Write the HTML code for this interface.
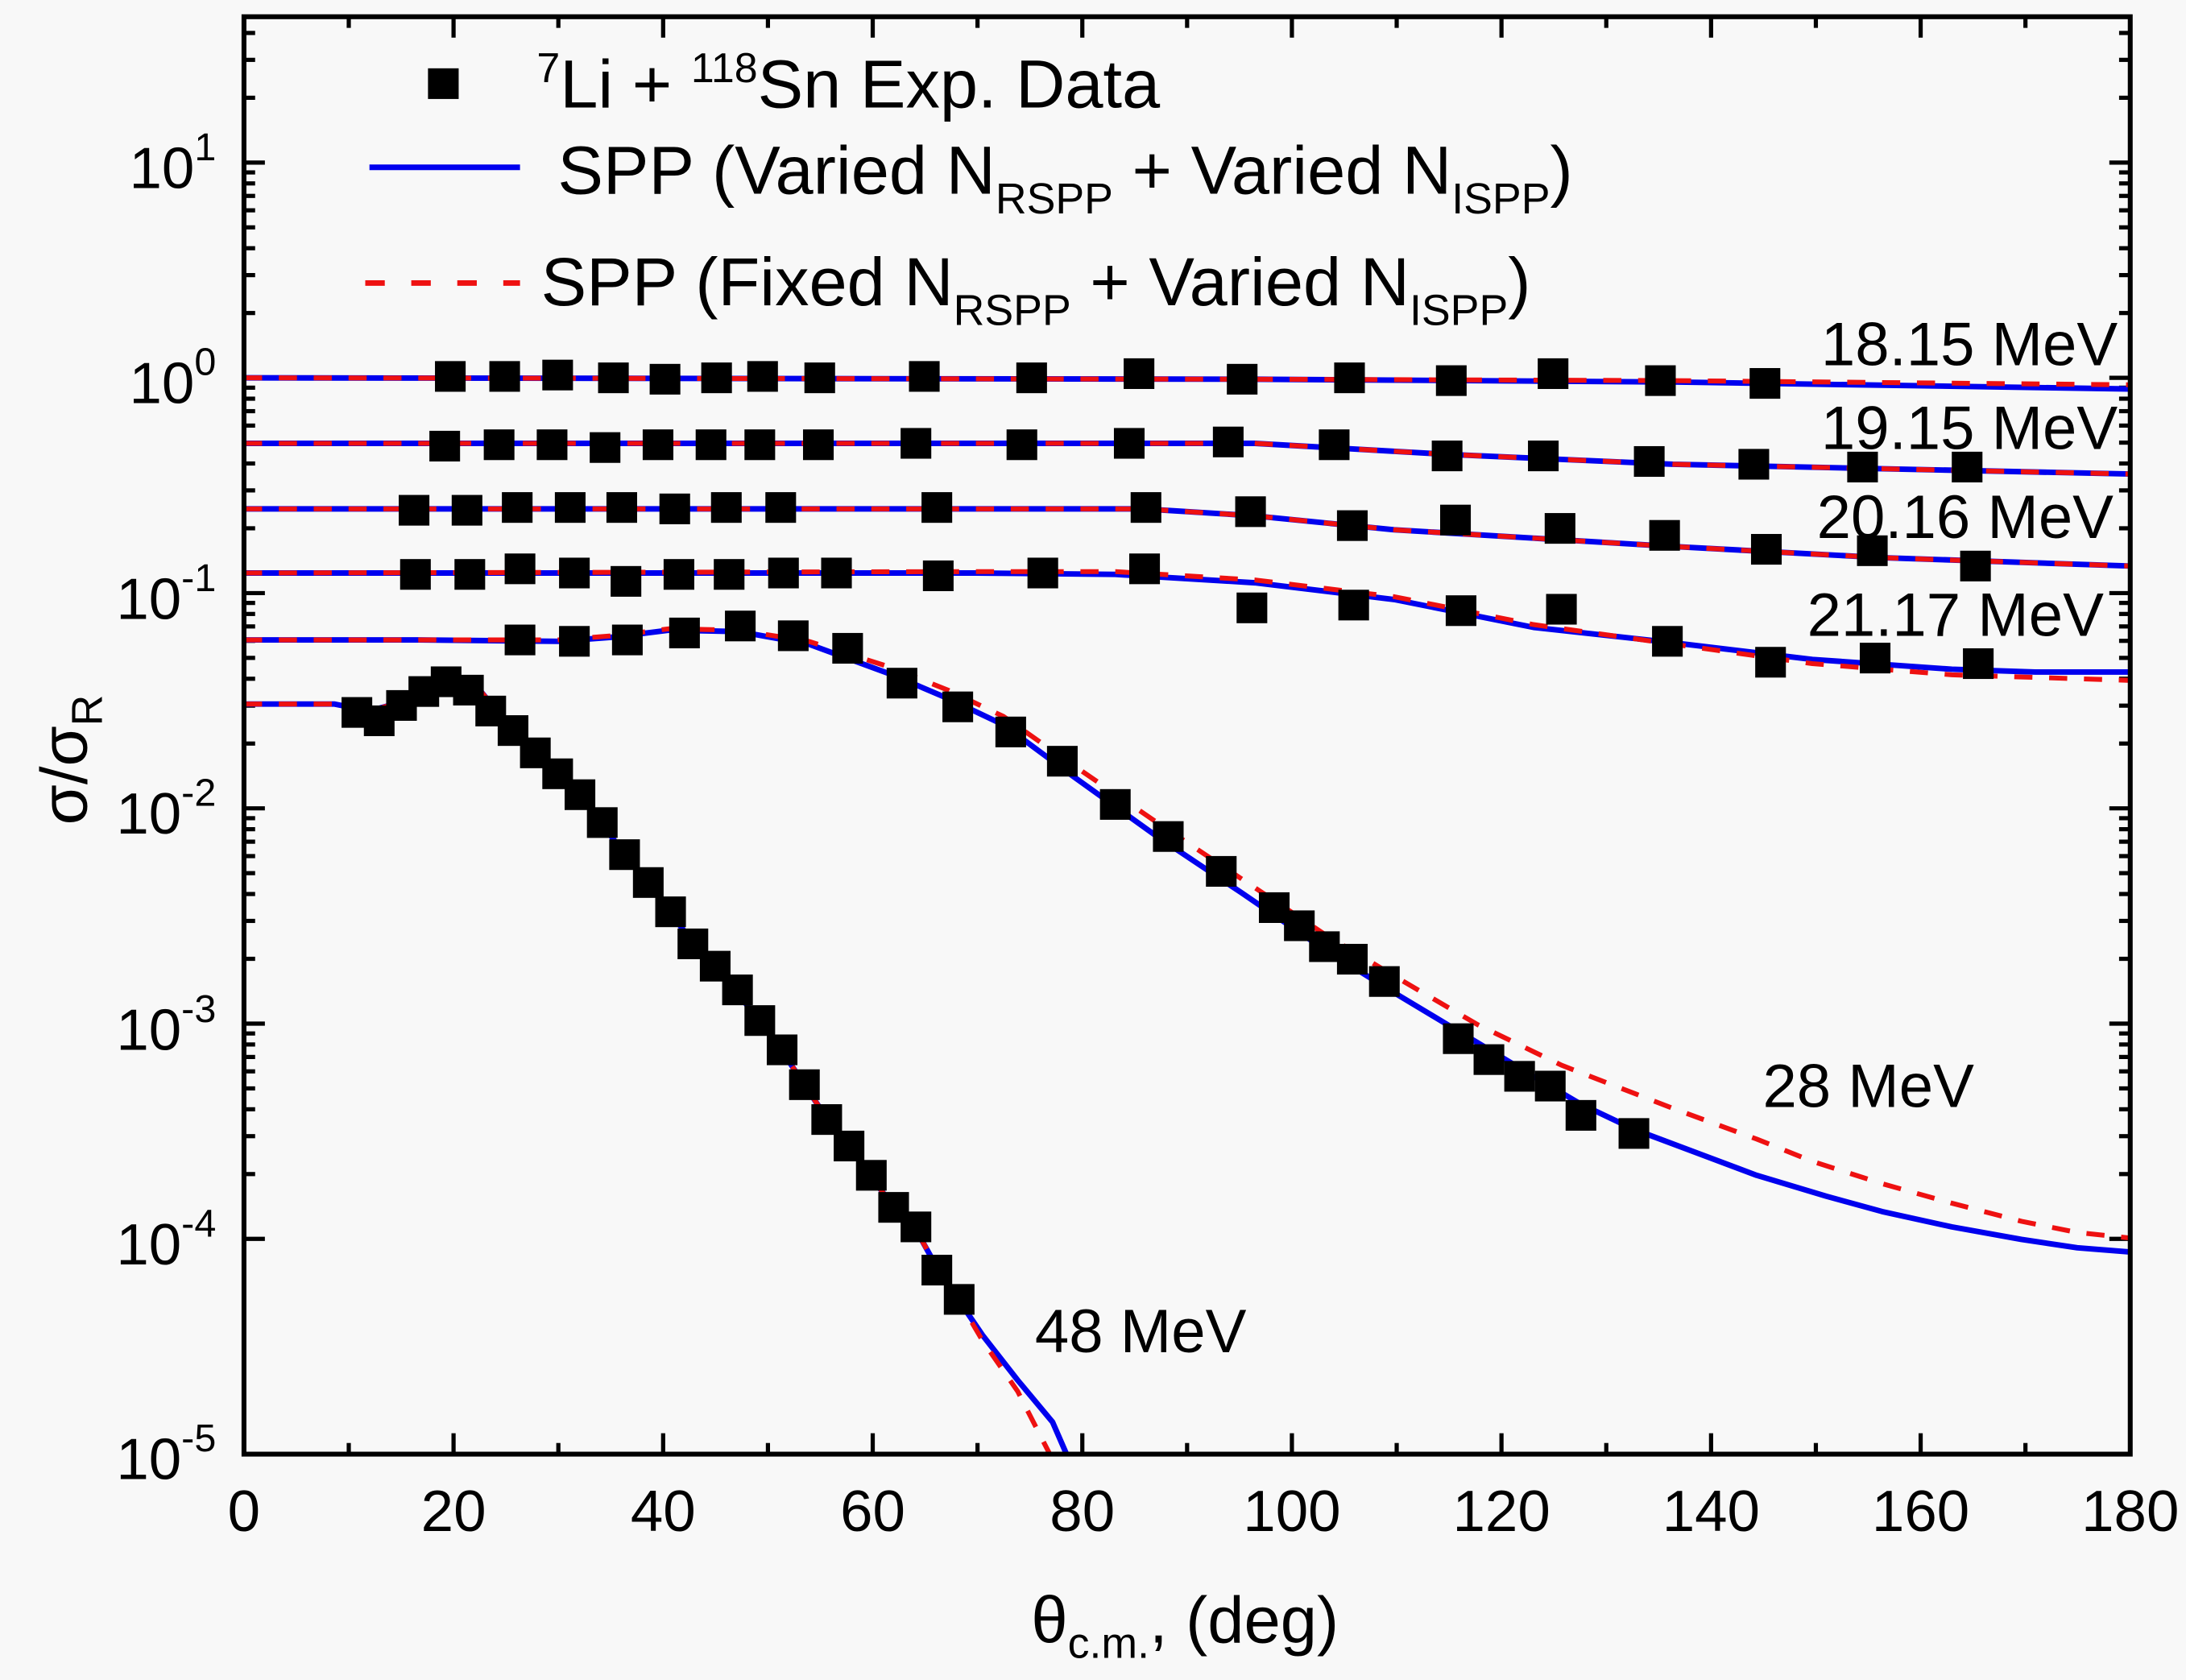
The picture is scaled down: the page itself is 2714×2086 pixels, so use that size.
<!DOCTYPE html>
<html><head><meta charset="utf-8"><style>
html,body{margin:0;padding:0;background:#f8f8f8}
svg{display:block}
text{font-family:"Liberation Sans",Arial,sans-serif;fill:#000}
</style></head><body>
<svg id="s" width="2714" height="2086" viewBox="0 0 1568 1205" preserveAspectRatio="none" xmlns="http://www.w3.org/2000/svg">
<rect width="1568" height="1205" fill="#f8f8f8"/>
<g id="ticks" stroke="#000" stroke-width="3"></g>
<g id="curves" fill="none" stroke-linejoin="round" stroke-linecap="butt"></g>
<g id="marks" fill="#000"></g>
<rect x="175" y="12" width="1353" height="1031" fill="none" stroke="#000" stroke-width="3.5"/>
<g font-size="42" text-anchor="end">
<text x="155" y="135">10<tspan dy="-20" font-size="28">1</tspan></text>
<text x="155" y="289">10<tspan dy="-20" font-size="28">0</tspan></text>
<text x="155" y="444">10<tspan dy="-20" font-size="28">-1</tspan></text>
<text x="155" y="598">10<tspan dy="-20" font-size="28">-2</tspan></text>
<text x="155" y="753">10<tspan dy="-20" font-size="28">-3</tspan></text>
<text x="155" y="907">10<tspan dy="-20" font-size="28">-4</tspan></text>
<text x="155" y="1061">10<tspan dy="-20" font-size="28">-5</tspan></text>
</g>
<g font-size="42" text-anchor="middle" id="xl"></g>
<text x="850" y="1178" font-size="47" text-anchor="middle">θ<tspan dy="11" font-size="31">c.m.</tspan><tspan dy="-11">, (deg)</tspan></text>
<text transform="translate(62,545) rotate(-90)" font-size="47" text-anchor="middle">σ/σ<tspan dy="11" font-size="31">R</tspan></text>
<rect x="307" y="49" width="22" height="22"/>
<line x1="265" y1="120" x2="373" y2="120" stroke="#0000ee" stroke-width="4"/>
<line x1="262" y1="203" x2="373" y2="203" stroke="#ee1111" stroke-width="4" stroke-dasharray="14,19"/>
<g font-size="49">
<text x="385" y="77"><tspan dy="-18" font-size="30">7</tspan><tspan dy="18">Li + </tspan><tspan dy="-18" font-size="30">118</tspan><tspan dy="18">Sn Exp. Data</tspan></text>
<text x="400" y="139">SPP (Varied N<tspan dy="14" font-size="31">RSPP</tspan><tspan dy="-14"> + Varied N</tspan><tspan dy="14" font-size="31">ISPP</tspan><tspan dy="-14">)</tspan></text>
<text x="388" y="219">SPP (Fixed N<tspan dy="14" font-size="31">RSPP</tspan><tspan dy="-14"> + Varied N</tspan><tspan dy="14" font-size="31">ISPP</tspan><tspan dy="-14">)</tspan></text>
</g>
<g font-size="44" text-anchor="end">
<text x="1519" y="262">18.15 MeV</text>
<text x="1519" y="322">19.15 MeV</text>
<text x="1516" y="386">20.16 MeV</text>
<text x="1509" y="456">21.17 MeV</text>
<text x="1416" y="794">28 MeV</text>
<text x="894" y="970">48 MeV</text>
</g>
</svg>
<script>
var NS="http://www.w3.org/2000/svg";
function el(p,t,a){var e=document.createElementNS(NS,t);for(var k in a)e.setAttribute(k,a[k]);document.getElementById(p).appendChild(e);return e;}
for(var d=0;d<=180;d+=10){var x=175+d*1353/180,L=(d%20==0)?15:8;
el("ticks","line",{x1:x,y1:1043,x2:x,y2:1043-L});el("ticks","line",{x1:x,y1:12,x2:x,y2:12+L});
if(d%20==0){var t=el("xl","text",{x:x,y:1098});t.textContent=d;}}
var dec=154.4;
for(var e=-5;e<=1;e++){for(var m=1;m<=9;m++){var v=e+Math.log10(m);var y=271-dec*v;if(y<12)continue;if(e==-5&&m>1)continue;var L=(m==1)?15:8;
el("ticks","line",{x1:175,y1:y,x2:175+L,y2:y});el("ticks","line",{x1:1528,y1:y,x2:1528-L,y2:y});}}
function pts(a){return a.map(function(p){return p[0]+","+p[1]}).join(" ");}
function curve(b,r){el("curves","polyline",{points:pts(b),stroke:"#0000ee","stroke-width":4});
el("curves","polyline",{points:pts(r||b),stroke:"#ee1111","stroke-width":3.5,"stroke-dasharray":"13,12"});}
curve([[175,271],[900,272],[1200,274],[1528,279]],[[175,271],[900,272],[1200,273],[1528,276]]);
curve([[175,318],[900,318],[1040,326],[1200,333],[1528,340]]);
curve([[175,365],[820,365],[900,370],[1000,380],[1200,392],[1350,400],[1528,406]]);
curve([[175,411],[700,411],[800,412],[900,418],[1000,430],[1100,450],[1200,461],[1300,473],[1400,480],[1460,482],[1528,482]],
[[175,411],[700,410],[800,410],[900,416],[1000,428],[1100,448],[1200,462],[1300,476],[1400,484],[1528,488]]);
curve([[175,459],[300,459],[400,460],[440,457],[480,452],[530,453],[580,462],[640,484],[680,501],[720,520],[770,557],[830,600],[890,640],[950,681],[1000,712],[1060,748],[1100,772],[1134,792],[1172,810],[1220,828],[1260,843],[1310,858],[1350,869],[1400,880],[1450,889],[1490,895],[1528,898]],
[[175,459],[300,459],[400,459],[440,456],[480,451],[530,452],[580,460],[640,479],[680,495],[720,514],[770,549],[830,590],[890,630],[950,670],[1000,700],[1060,735],[1120,764],[1200,795],[1260,817],[1300,833],[1350,849],[1400,863],[1450,876],[1490,884],[1528,888]]);
var c48=[[175,505],[240,505],[265,510],[290,503],[320,490],[345,496],[368,524],[384,540],[400,555],[416,571],[432,591],[448,613],[465,634],[481,655],[497,676],[513,694],[529,712],[545,733],[561,754],[577,778],[593,802],[609,823],[625,844],[641,866],[657,882],[672,909],[688,933]];
curve(c48.concat([[705,958],[730,990],[755,1020],[765,1043]]),c48.concat([[705,962],[730,998],[753,1043]]));
function M(xs,ys){for(var i=0;i<xs.length;i++)el("marks","rect",{x:xs[i]-11,y:ys[i]-11,width:22,height:22});}
M([323,362,400,440,477,514,547,588,663,740,817,891,968,1041,1114,1191,1266],[270,270,269,271,272,271,270,271,270,271,268,272,271,273,268,273,275]);
M([319,358,396,434,472,510,545,587,657,733,810,881,957,1038,1107,1183,1258,1336,1411],[320,319,319,321,319,319,319,319,318,319,318,317,319,327,327,331,333,335,335]);
M([297,335,371,409,446,484,521,560,672,822,897,970,1044,1119,1194,1267,1343,1417],[366,366,364,364,364,365,364,364,364,364,367,377,373,379,384,394,395,406]);
M([298,337,373,412,449,487,523,562,600,673,748,821,898,971,1048,1120,1196,1270,1345,1419],[412,412,408,411,417,412,412,411,411,413,411,408,436,434,438,437,460,475,472,476]);
M([373,412,450,491,531,569,608,647,687,725,762,800,838,876,914,932,950,970,993,1046,1068,1090,1112,1134,1172],[459,460,459,454,449,456,465,490,507,525,546,577,600,625,651,664,679,688,704,745,760,772,779,800,813]);
M([256,272,288,304,320,336,352,368,384,400,416,432,448,465,481,497,513,529,545,561,577,593,609,625,641,657,672,688],[511,517,506,496,489,495,510,524,540,555,570,590,613,633,654,677,693,710,732,753,778,803,822,843,866,880,911,932]);
</script>
</body></html>
